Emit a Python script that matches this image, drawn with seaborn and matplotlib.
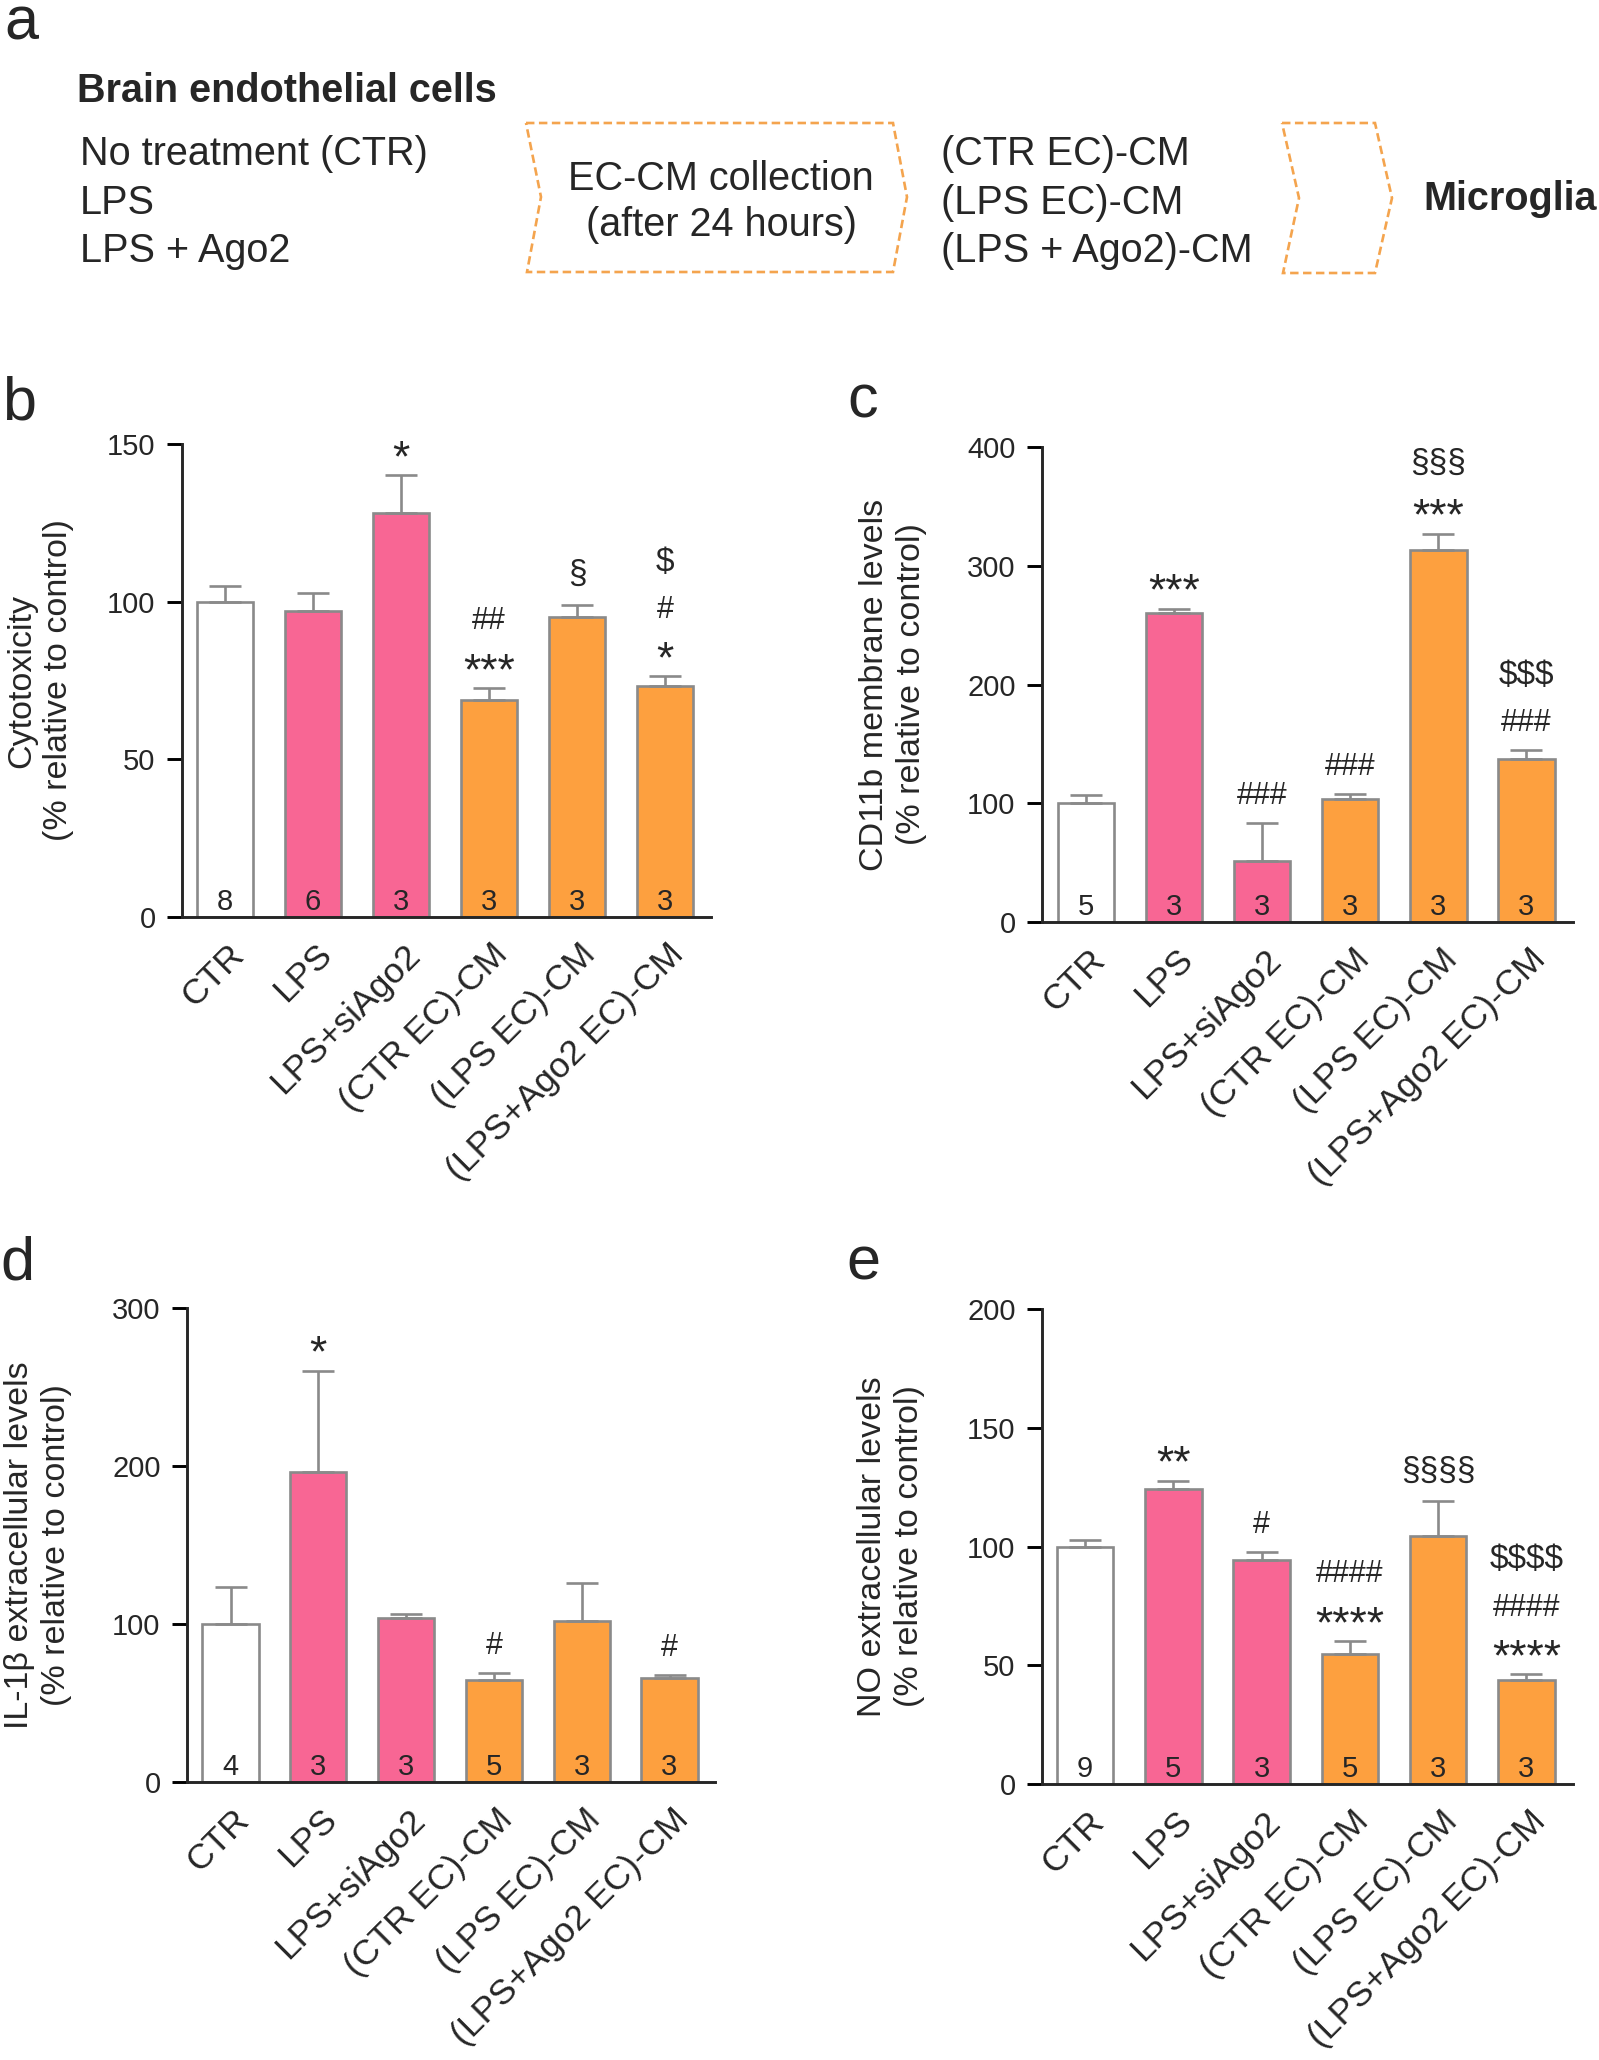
import numpy as np
import pandas as pd
import matplotlib
matplotlib.use("Agg")
import matplotlib.pyplot as plt
import seaborn as sns
from matplotlib.patches import Polygon
from matplotlib.font_manager import FontProperties
from matplotlib.textpath import TextPath
from matplotlib.transforms import ScaledTranslation

# ---------------- data ----------------
categories = ["CTR", "LPS", "LPS+siAgo2", "(CTR EC)-CM", "(LPS EC)-CM", "(LPS+Ago2 EC)-CM"]
bar_colors = ["#FFFFFF", "#F86694", "#F86694", "#FDA03F", "#FDA03F", "#FDA03F"]

cyto_mean = [100, 97, 128, 68.7, 95, 73.4]
cyto_sem = [5, 5.6, 12.2, 3.9, 3.9, 2.9]
cyto_n = [8, 6, 3, 3, 3, 3]
cyto_sig = [[], [], ["*"], ["***", "##"], ["§"], ["*", "#", "$"]]
cyto_ticks = [0, 50, 100, 150]

cd11b_mean = [100, 260, 51.6, 104, 313, 137]
cd11b_sem = [7, 4, 31.4, 4, 14, 8]
cd11b_n = [5, 3, 3, 3, 3, 3]
cd11b_sig = [[], ["***"], ["###"], ["###"], ["***", "§§§"], ["###", "$$$"]]
cd11b_ticks = [0, 100, 200, 300, 400]

il1b_mean = [100, 196, 104, 64.6, 102, 65.7]
il1b_sem = [23.3, 64.4, 2.6, 4.7, 24, 2.3]
il1b_n = [4, 3, 3, 5, 3, 3]
il1b_sig = [[], ["*"], [], ["#"], [], ["#"]]
il1b_ticks = [0, 100, 200, 300]

no_mean = [100, 124.4, 94.4, 54.9, 104.5, 43.9]
no_sem = [2.7, 3.3, 3.3, 5.3, 14.5, 2.3]
no_n = [9, 5, 3, 5, 3, 3]
no_sig = [[], ["**"], ["#"], ["****", "####"], ["§§§§"], ["****", "####", "$$$$"]]
no_ticks = [0, 50, 100, 150, 200]

ylabels = ["Cytotoxicity\n(% relative to control)",
           "CD11b membrane levels\n(% relative to control)",
           "IL-1\u03b2 extracellular levels\n(% relative to control)",
           "NO extracellular levels\n(% relative to control)"]

ec_title = "Brain endothelial cells"
ec_conditions = ["No treatment (CTR)", "LPS", "LPS + Ago2"]
collection_text = ["EC-CM collection", "(after 24 hours)"]
cm_conditions = ["(CTR EC)-CM", "(LPS EC)-CM", "(LPS + Ago2)-CM"]
target_text = "Microglia"

# ---------------- style ----------------
sns.set_style("ticks")
FONT = "Liberation Sans"
plt.rcParams["font.family"] = [FONT, "DejaVu Sans"]
plt.rcParams["axes.linewidth"] = 2.1
plt.rcParams["text.parse_math"] = False

NUM_FS = 21

W, H = 1599, 2060
PX = 100 / 72.0  # px per pt
EDGE = "#8A8A8A"
EDGE_LW = 1.9
BAR_W = 0.64
CAP = 11.5
DASH_COLOR = "#F4A44E"

fig = plt.figure(figsize=(W / 100, H / 100), dpi=100)
fig.patch.set_facecolor("white")

# overlay axes in pixel coordinates for the scheme and free text
ov = fig.add_axes([0, 0, 1, 1])
ov.set_xlim(0, W)
ov.set_ylim(H, 0)
ov.set_axis_off()

LETTER_FS = 44

# ---------------- panel a ----------------
ov.text(4, 40, "a", fontsize=LETTER_FS, va="baseline", ha="left")
ov.text(77, 102, ec_title, fontsize=28.5, fontweight="bold", va="baseline", ha="left")
for k, t in enumerate(ec_conditions):
    ov.text(80, 165 + 48.5 * k, t, fontsize=28.5, va="baseline", ha="left")
for k, t in enumerate(cm_conditions):
    ov.text(941, 165 + 48.5 * k, t, fontsize=28.5, va="baseline", ha="left")
ov.text(721, 190, collection_text[0], fontsize=28.5, va="baseline", ha="center")
ov.text(721, 236, collection_text[1], fontsize=28.5, va="baseline", ha="center")
ov.text(1423, 210, target_text, fontsize=28.5, fontweight="bold", va="baseline", ha="left")

chev1 = [(526, 123), (893, 123), (907, 197), (893, 272), (527, 272), (541, 197)]
chev2 = [(1282, 123), (1375, 123), (1392, 198), (1375, 273), (1283, 273), (1299, 198)]
for pts in (chev1, chev2):
    ov.add_patch(Polygon(pts, closed=True, fill=False, edgecolor=DASH_COLOR,
                         linewidth=1.9, linestyle=(0, (3.2, 1.7))))

# ---------------- bar panels ----------------
STAR_FS = 32
HASH_FS = 22
OTHER_FS = 24
FIRST_GAP = 19   # px between error-bar top and first symbol ink
STACK_GAP = 24   # px between stacked symbols ink


def sym_size(s):
    if s.startswith("*"):
        return STAR_FS
    if s.startswith("#"):
        return HASH_FS
    return OTHER_FS


def ink(sym, fs):
    fp = FontProperties(family=FONT, size=fs)
    ext = TextPath((0, 0), sym, size=fs, prop=fp).get_extents()
    return ext.y0 * PX, ext.y1 * PX


def annotate_sig(ax, x, top, syms):
    cur = FIRST_GAP
    for s in syms:
        fs = sym_size(s)
        b, t = ink(s, fs)
        base = cur - b
        ax.annotate(s, xy=(x, top), xytext=(0, base / PX), textcoords="offset points",
                    ha="center", va="baseline", fontsize=fs, annotation_clip=False)
        cur = base + t + STACK_GAP


def bar_panel(layout, means, sems, ns, sigs, ticks, ylabel, letter):
    left, right, top, bottom, x0, dx, ylab_x, let_xy = layout
    ax = fig.add_axes([left / W, 1 - bottom / H, (right - left) / W, (bottom - top) / H])
    ax.patch.set_alpha(0)
    df = pd.DataFrame({"group": categories, "value": means})
    sns.barplot(data=df, x="group", y="value", hue="group", order=categories,
                hue_order=categories, palette=bar_colors, saturation=1, width=BAR_W,
                edgecolor=EDGE, linewidth=EDGE_LW, errorbar=None, legend=False, ax=ax)
    xs = np.arange(len(categories))
    ax.errorbar(xs, means, yerr=[np.zeros(len(means)), sems], fmt="none", ecolor=EDGE,
                elinewidth=EDGE_LW, capsize=CAP, capthick=EDGE_LW, zorder=3)
    ax.set_ylim(ticks[0], ticks[-1])
    ax.set_xlim(-(x0 - left) / dx, len(categories) - 1 + (right - (x0 + dx * 5)) / dx)
    ax.set_yticks(ticks)
    ax.set_yticklabels([str(t) for t in ticks], fontsize=NUM_FS)
    ax.tick_params(axis="y", length=11, width=2.1, pad=8, color="black")
    ax.tick_params(axis="x", length=0, pad=15)
    ax.set_xticks(xs)
    ax.set_xticklabels(categories, rotation=45, ha="right", va="top",
                       rotation_mode="anchor", fontsize=25.5)
    off = ScaledTranslation(2 / 100, 0, fig.dpi_scale_trans)
    for lab in ax.get_xticklabels():
        lab.set_transform(lab.get_transform() + off)
    ax.set_xlabel("")
    ax.set_ylabel("")
    sns.despine(ax=ax)
    for i, (m, s) in enumerate(zip(means, sems)):
        annotate_sig(ax, i, m + s, sigs[i])
        ax.annotate(str(ns[i]), xy=(i, 0), xytext=(0, 5), textcoords="offset points",
                    ha="center", va="baseline", fontsize=NUM_FS)
    ov.text(ylab_x, (top + bottom) / 2, ylabel, rotation=90, ha="center", va="center",
            fontsize=24.5, linespacing=1.22, multialignment="center")
    ov.text(let_xy[0], let_xy[1], letter, fontsize=LETTER_FS, ha="left", va="baseline")
    return ax


# layout: left, right, top, bottom, first bar centre, bar spacing, ylabel x, letter pos (px)
layout_b = (182, 711, 444, 917, 225, 88, 40, (2, 419))
layout_c = (1042, 1573, 447, 922, 1086, 88.1, 893, (847, 418))
layout_d = (187, 715, 1308, 1782, 230.5, 87.8, 38, (0, 1279))
layout_e = (1042, 1573, 1309, 1784, 1085, 88.3, 891, (846, 1279))

bar_panel(layout_b, cyto_mean, cyto_sem, cyto_n, cyto_sig, cyto_ticks, ylabels[0], "b")
bar_panel(layout_c, cd11b_mean, cd11b_sem, cd11b_n, cd11b_sig, cd11b_ticks, ylabels[1], "c")
bar_panel(layout_d, il1b_mean, il1b_sem, il1b_n, il1b_sig, il1b_ticks, ylabels[2], "d")
bar_panel(layout_e, no_mean, no_sem, no_n, no_sig, no_ticks, ylabels[3], "e")

fig.savefig("out.png", dpi=100, facecolor="white")
